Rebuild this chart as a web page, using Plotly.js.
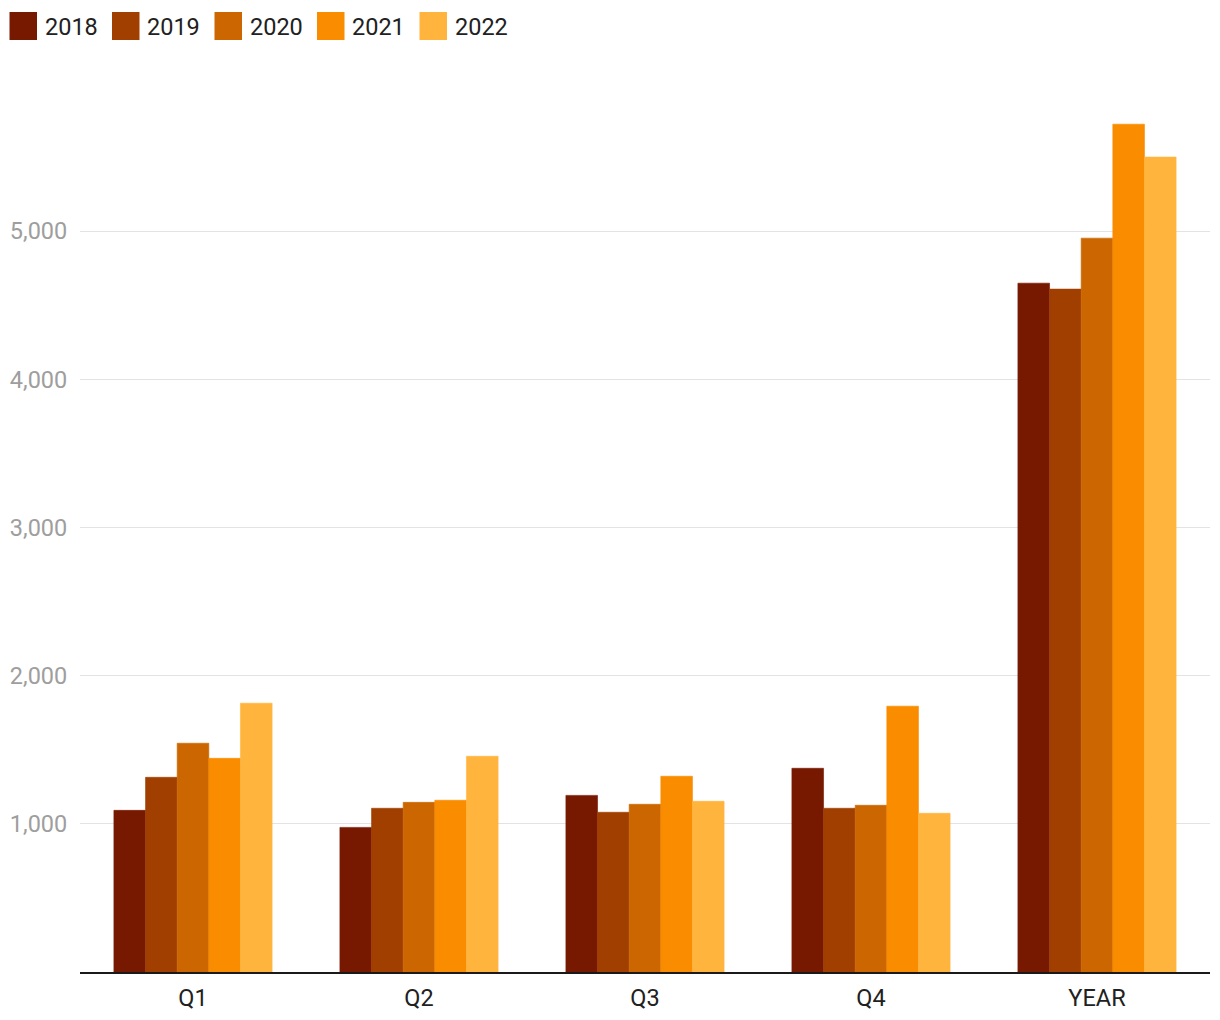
<!DOCTYPE html>
<html>
<head>
<meta charset="utf-8">
<script src="https://cdn.plot.ly/plotly-3.0.1.min.js"></script>
<style>html,body{margin:0;padding:0;background:#fff;}#chart{width:1220px;height:1020px;}</style>
</head>
<body>
<div id="chart"></div>
<script>
const categories = ["Q1", "Q2", "Q3", "Q4", "YEAR"];
const seriesNames = ["2018", "2019", "2020", "2021", "2022"];
const v2018 = [1091, 976, 1192, 1375, 4649];
const v2019 = [1314, 1105, 1078, 1105, 4609];
const v2020 = [1544, 1145, 1132, 1125, 4953];
const v2021 = [1442, 1159, 1321, 1794, 5722];
const v2022 = [1814, 1456, 1152, 1071, 5500];
const colors = ["#771900", "#a03f00", "#cb6600", "#fa8c00", "#ffb43e"];
const tickVals = [1000, 2000, 3000, 4000, 5000];
const tickText = ["1,000", "2,000", "3,000", "4,000", "5,000"];

const values = [v2018, v2019, v2020, v2021, v2022];
const traces = seriesNames.map((n, i) => ({
  type: "bar", name: n, x: categories, y: values[i],
  marker: {color: colors[i], line: {width: 0.6, color: colors[i]}},
  hoverinfo: "x+y+name"
}));

// custom legend (pixel layout -> paper coords)
const mL = 80, mR = 10, mT = 83, mB = 48, W = 1220, H = 1020;
const pw = W - mL - mR, ph = H - mT - mB;
const px = x => (x - mL) / pw;
const py = y => (H - mB - y) / ph;
const shapes = [], annotations = [];
seriesNames.forEach((n, i) => {
  const x0 = 9.5 + i * 102.5;
  shapes.push({type: "rect", xref: "paper", yref: "paper",
    x0: px(x0), x1: px(x0 + 27.5), y0: py(40), y1: py(12),
    fillcolor: colors[i], line: {width: 0}, layer: "above"});
  annotations.push({xref: "paper", yref: "paper", x: px(x0 + 33), y: py(26.5),
    xanchor: "left", yanchor: "middle", showarrow: false, text: n,
    font: {family: "Roboto", size: 23.5, color: "#212121"}});
});

const layout = {
  width: W, height: H,
  margin: {l: mL, r: mR, t: mT, b: mB, pad: 0},
  paper_bgcolor: "#fff", plot_bgcolor: "#fff",
  barmode: "group", bargap: 0.3, bargroupgap: 0,
  showlegend: false,
  font: {family: "Roboto", size: 20, color: "#212121"},
  xaxis: {
    type: "category", showgrid: false, zeroline: false,
    showline: true, linecolor: "#1a1a1a", linewidth: 2,
    ticks: "outside", ticklen: 4, tickcolor: "rgba(0,0,0,0)",
    tickfont: {family: "Roboto", size: 23.5, color: "#212121"}
  },
  yaxis: {
    range: [0, 6000], tickvals: tickVals, ticktext: tickText,
    showgrid: true, gridcolor: "#e3e3e3", gridwidth: 1.3,
    zeroline: false, showline: false,
    ticks: "outside", ticklen: 7, tickcolor: "rgba(0,0,0,0)",
    tickfont: {family: "Roboto", size: 23.5, color: "#9e9e9e"}
  },
  shapes: shapes, annotations: annotations
};
Plotly.newPlot("chart", traces, layout, {displayModeBar: false, staticPlot: true});
</script>
</body>
</html>
